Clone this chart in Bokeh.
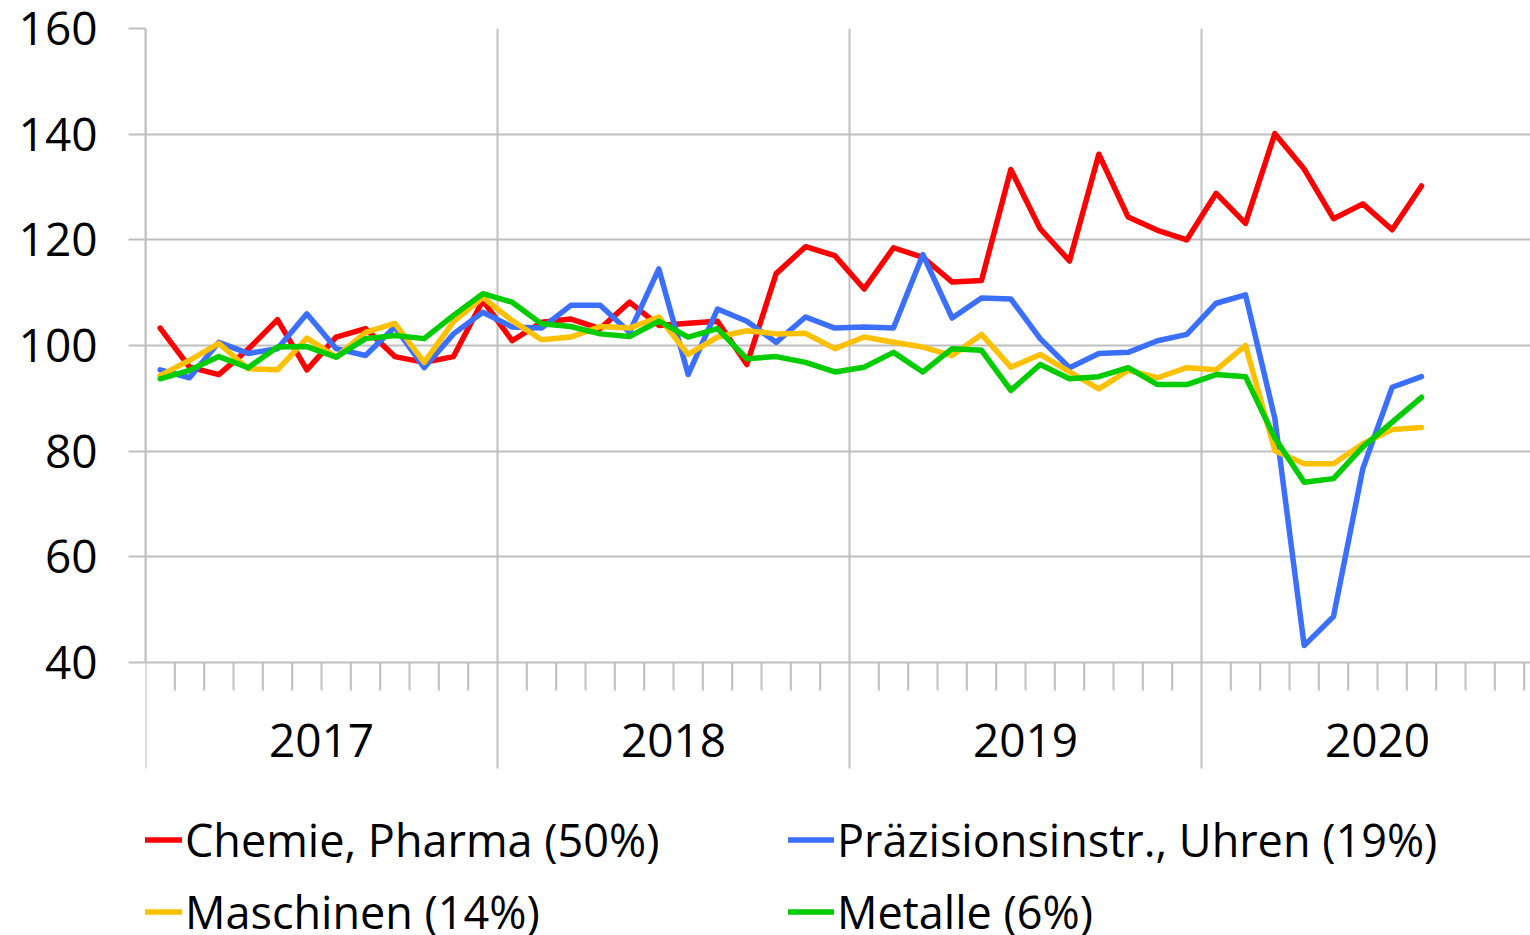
from bokeh.plotting import figure
from bokeh.models import Range1d, FixedTicker, Legend, LegendItem, LinearAxis, Grid
from bokeh.core.properties import value
from bokeh.embed import file_html
from bokeh.resources import INLINE

# ---- data: monthly index values, Jan 2017 .. Aug 2020 ----
years = ["2017", "2018", "2019", "2020"]
months_per_year = 12
chemie = [103.3, 95.9, 94.5, 99.3, 104.9, 95.4, 101.6, 103.2, 97.9, 96.8, 97.9, 108.5,
          100.9, 104.4, 105.0, 103.2, 108.2, 103.8, 104.2, 104.6, 96.4, 113.6, 118.7, 117.0,
          110.7, 118.5, 116.7, 112.0, 112.3, 133.3, 122.1, 116.0, 136.2, 124.3, 121.8, 120.0,
          128.8, 123.1, 140.1, 133.4, 124.0, 126.8, 121.9, 130.2]
praezision = [95.4, 93.9, 100.6, 98.5, 99.4, 106.0, 99.4, 98.1, 103.5, 95.8, 102.2, 106.3,
              103.5, 103.3, 107.6, 107.6, 102.5, 114.5, 94.5, 106.9, 104.6, 100.6, 105.4, 103.3,
              103.5, 103.3, 117.2, 105.2, 109.0, 108.8, 101.3, 95.8, 98.5, 98.7, 100.9, 102.1,
              108.0, 109.6, 86.2, 43.2, 48.7, 76.7, 92.1, 94.1]
maschinen = [94.3, 97.2, 100.4, 95.6, 95.4, 101.4, 97.8, 102.5, 104.2, 96.8, 104.5, 109.1,
             104.7, 101.1, 101.6, 103.6, 103.3, 105.4, 98.3, 101.6, 102.8, 102.2, 102.3, 99.4,
             101.6, 100.6, 99.7, 98.1, 102.1, 95.9, 98.3, 95.0, 91.8, 95.3, 93.9, 95.8,
             95.4, 100.0, 80.1, 77.6, 77.6, 81.4, 84.1, 84.5]
metalle = [93.7, 95.3, 97.9, 95.8, 99.7, 99.8, 97.8, 101.3, 101.9, 101.3, 105.7, 109.8,
           108.2, 104.1, 103.6, 102.2, 101.7, 104.6, 101.6, 103.2, 97.5, 97.9, 96.8, 95.0,
           95.9, 98.7, 95.0, 99.4, 99.1, 91.5, 96.4, 93.7, 94.1, 95.8, 92.6, 92.6,
           94.5, 94.1, 82.5, 74.1, 74.8, 80.8, 85.5, 90.2]
series_names = ["Chemie, Pharma (50%)", "Präzisionsinstr., Uhren (19%)",
                "Maschinen (14%)", "Metalle (6%)"]
series_values = [chemie, praezision, maschinen, metalle]
series_colors = ["#ff0000", "#3b6fff", "#ffc000", "#00cc00"]
y_ticks = [40, 60, 80, 100, 120, 140, 160]

FONT = "Open Sans"
GRID = "#bfbfbf"

# ---- layout (pixels) ----
W, H = 1530, 935
LEFT, TOP = 145, 28          # frame left / top
Y40_PX = 662                 # pixel row of the value 40 (x axis line)
MONTH_TICK = 28              # month tick length below the axis
YEAR_TICK = 106              # year divider length below the axis
YEAR_LABEL_DY = 78           # year label centre below the axis
YEAR_PX = 352                # width of one year
px_per_unit = (Y40_PX - TOP) / (y_ticks[-1] - y_ticks[0])
y_start = y_ticks[0] - (H - Y40_PX) / px_per_unit
x_end = (W - LEFT) / (YEAR_PX / months_per_year)

# month index positions (centre of each month)
x = [i + 0.5 for i in range(len(chemie))]

p = figure(width=W, height=H, output_backend="svg", toolbar_location=None,
           x_range=Range1d(0, x_end), y_range=Range1d(y_start, y_ticks[-1]),
           min_border_left=LEFT, min_border_right=0, min_border_top=TOP,
           min_border_bottom=0, outline_line_color=None,
           x_axis_type=None, y_axis_type=None)
p.xgrid.visible = False
p.ygrid.visible = False

# y axis (line only between 40 and 160)
yax = LinearAxis(ticker=FixedTicker(ticks=y_ticks), bounds=(y_ticks[0], y_ticks[-1]))
yax.axis_line_color = GRID
yax.axis_line_width = 2
yax.major_tick_line_color = GRID
yax.major_tick_line_width = 2
yax.major_tick_out = 17
yax.major_tick_in = 0
yax.minor_tick_line_color = None
yax.major_label_standoff = 31
yax.major_label_text_font = FONT
yax.major_label_text_font_size = "46px"
yax.major_label_text_color = "#000000"
p.add_layout(yax, "left")

# horizontal grid lines
p.add_layout(Grid(dimension=1, ticker=FixedTicker(ticks=y_ticks), grid_line_color=GRID,
                  grid_line_width=2))

# x axis drawn as glyphs at value 40: year dividers and month ticks
year_bounds = [k * months_per_year for k in range(len(years) + 1)]
month_bounds = [m for m in range(1, int(x_end) + 1) if m % months_per_year != 0]
y_month_end = y_ticks[0] - MONTH_TICK / px_per_unit
y_year_end = y_ticks[0] - YEAR_TICK / px_per_unit
p.segment(x0=month_bounds, x1=month_bounds, y0=[y_ticks[0]] * len(month_bounds),
          y1=[y_month_end] * len(month_bounds), line_color=GRID, line_width=2,
          level="underlay")
p.segment(x0=year_bounds, x1=year_bounds, y0=[y_ticks[-1]] * len(year_bounds),
          y1=[y_year_end] * len(year_bounds), line_color=GRID, line_width=2,
          level="underlay")

# year labels, centred in each year
year_centres = [k * months_per_year + months_per_year / 2 for k in range(len(years))]
p.text(x=year_centres, y=[y_ticks[0]] * len(years), text=years, y_offset=YEAR_LABEL_DY,
       text_align="center", text_baseline="middle", text_font=value(FONT),
       text_font_size="46px", text_color="#000000")

items = []
for name, vals, col in zip(series_names, series_values, series_colors):
    r = p.line(x, vals, line_color=col, line_width=5.5, line_join="round", line_cap="round")
    items.append(LegendItem(label=name, renderers=[r]))

legend = Legend(items=items, location=(-9, -7), orientation="horizontal", ncols=2,
                label_text_font=FONT, label_text_font_size="45px", label_text_color="#000000",
                glyph_width=46, glyph_height=61, label_height=61, label_width=592,
                label_standoff=3, spacing=11, padding=0, margin=0,
                border_line_color=None, background_fill_alpha=0)
p.add_layout(legend)

open("out.html", "w").write(file_html(p, INLINE))
